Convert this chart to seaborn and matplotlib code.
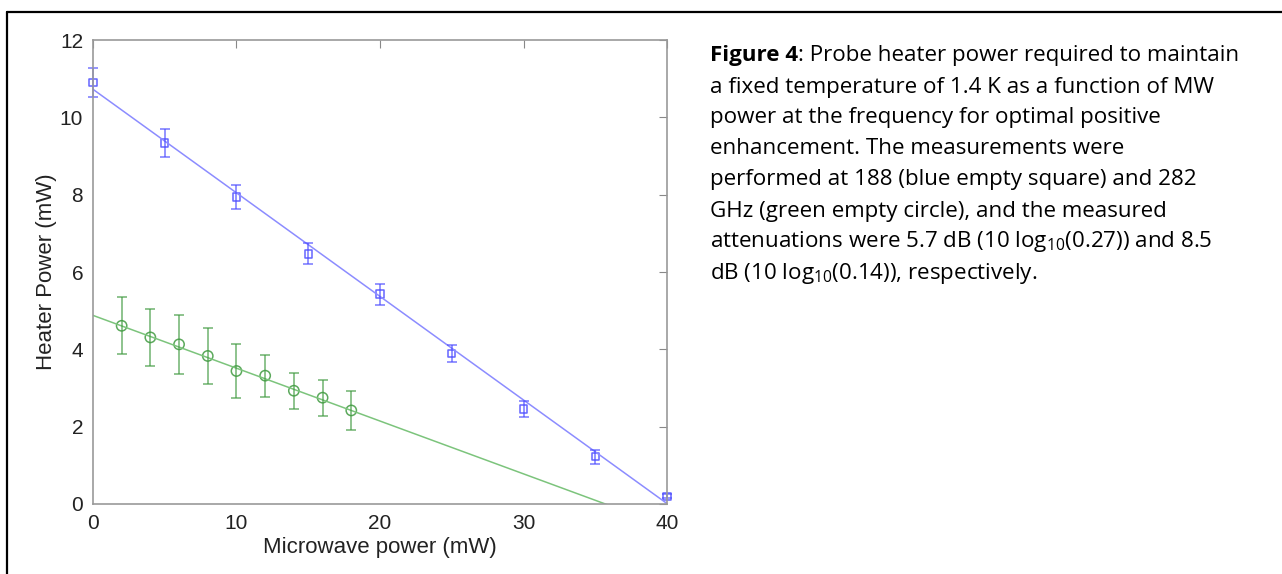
import numpy as np
import pandas as pd
import seaborn as sns
import matplotlib.pyplot as plt
from matplotlib.lines import Line2D

sns.set_style('white')
plt.rcParams['font.family'] = ['Liberation Sans', 'DejaVu Sans']
plt.rcParams['mathtext.fontset'] = 'custom'
plt.rcParams['mathtext.rm'] = 'Open Sans'

# 188 GHz (blue squares)
x_188 = [0, 5, 10, 15, 20, 25, 30, 35, 40]
p_188 = [10.9, 9.34, 7.94, 6.47, 5.43, 3.90, 2.46, 1.22, 0.20]
err_188 = [0.38, 0.35, 0.32, 0.27, 0.27, 0.22, 0.20, 0.18, 0.05]
fit_188 = (10.73, -0.268)   # intercept, slope

# 282 GHz (green circles)
x_282 = [2, 4, 6, 8, 10, 12, 14, 16, 18]
p_282 = [4.61, 4.31, 4.13, 3.83, 3.44, 3.32, 2.93, 2.75, 2.42]
err_282 = [0.74, 0.73, 0.76, 0.72, 0.69, 0.54, 0.47, 0.47, 0.50]
fit_282 = (4.88, -0.1367)

x_ticks = [0, 10, 20, 30, 40]
y_ticks = [0, 2, 4, 6, 8, 10, 12]

blue = '#4a4aff'
blue_line = '#8c8cff'
green = '#3f9a3f'
green_line = '#7cc47c'

fig = plt.figure(figsize=(12.82, 5.74), dpi=100)
ax = fig.add_axes([0.0725, 0.122, 0.4478, 0.808])

xf = np.array([0, 40])
fits = pd.DataFrame({'x': np.concatenate([xf, xf]),
                     'y': np.concatenate([fit_188[0] + fit_188[1] * xf,
                                          fit_282[0] + fit_282[1] * xf]),
                     'set': ['188'] * 2 + ['282'] * 2})
sns.lineplot(data=fits, x='x', y='y', hue='set', palette=[blue_line, green_line],
             linewidth=1.1, legend=False, ax=ax)

ax.errorbar(x_188, p_188, yerr=err_188, fmt='none', ecolor=blue, alpha=0.75,
            elinewidth=1.1, capsize=3.5, capthick=1.1, clip_on=False)
ax.errorbar(x_282, p_282, yerr=err_282, fmt='none', ecolor=green, alpha=0.75,
            elinewidth=1.1, capsize=3.5, capthick=1.1)
sns.scatterplot(x=x_188, y=p_188, marker='s', s=28, facecolor='none',
                edgecolor=blue, linewidth=1.1, ax=ax, alpha=0.85, clip_on=False)
sns.scatterplot(x=x_282, y=p_282, marker='o', s=55, facecolor='none',
                edgecolor=green, linewidth=1.1, ax=ax, alpha=0.85)

ax.set_xlim(0, 40)
ax.set_ylim(0, 12)
ax.set_xticks(x_ticks)
ax.set_yticks(y_ticks)
ax.tick_params(direction='in', length=6, width=0.8, color='#888888', pad=7,
               labelsize=15, labelcolor='#222222', top=True, right=True)
for s in ax.spines.values():
    s.set_color('#999999')
    s.set_linewidth(1.2)
ax.set_xlabel('Microwave power (mW)', fontsize=16, color='#222222', labelpad=3)
ax.set_ylabel('Heater Power (mW)', fontsize=16, color='#222222', labelpad=2)

# page border
fig.add_artist(Line2D([7 / 1282, 7 / 1282], [0, 562 / 574], color='black', lw=1.6))
fig.add_artist(Line2D([7 / 1282, 1], [562 / 574, 562 / 574], color='black', lw=1.6))

# caption
cap = [
    None,
    'a fixed temperature of 1.4 K as a function of MW',
    'power at the frequency for optimal positive',
    'enhancement. The measurements were',
    'performed at 188 (blue empty square) and 282',
    'GHz (green empty circle), and the measured',
    r'attenuations were 5.7 dB (10 log$_{\mathrm{10}}$(0.27)) and 8.5',
    r'dB (10 log$_{\mathrm{10}}$(0.14)), respectively.',
]
cx = 710 / 1282
cfs = 16.1
for i, line in enumerate(cap):
    y = 1 - (56 + i * 31) / 574
    if line is None:
        t = fig.text(cx, y, 'Figure 4', fontsize=cfs, fontweight='bold',
                     family='Open Sans', va='center', color='black')
        fig.canvas.draw()
        bb = t.get_window_extent()
        fig.text(bb.x1 / fig.bbox.width, y, ': Probe heater power required to maintain',
                 fontsize=cfs, family='Open Sans', va='center', color='black')
    else:
        fig.text(cx, y, line, fontsize=cfs, family='Open Sans', va='center', color='black')

fig.savefig('out.png', dpi=100)
